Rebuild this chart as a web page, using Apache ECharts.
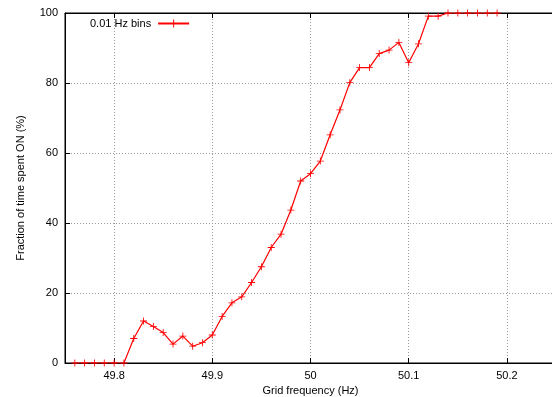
<!DOCTYPE html>
<html><head><meta charset="utf-8">
<script src="https://cdn.jsdelivr.net/npm/echarts@6/dist/echarts.min.js"></script>
<style>html,body{margin:0;padding:0;background:#fff}#c{width:552px;height:397px}</style>
</head><body><div id="c"></div>
<script>
const freqs = [49.76,49.77,49.78,49.79,49.80,49.81,49.82,49.83,49.84,49.85,49.86,49.87,49.88,49.89,49.90,49.91,49.92,49.93,49.94,49.95,49.96,49.97,49.98,49.99,50.00,50.01,50.02,50.03,50.04,50.05,50.06,50.07,50.08,50.09,50.10,50.11,50.12,50.13,50.14,50.15,50.16,50.17,50.18,50.19];
const fractionOn = [0,0,0,0,0,0,7.0,12.0,10.4,8.7,5.4,7.7,4.8,5.8,8.0,13.3,17.2,18.9,23.0,27.5,33.0,36.8,43.7,52.0,54.1,57.7,65.2,72.3,80.1,84.4,84.4,88.4,89.4,91.6,85.8,91.2,99.1,99.1,100,100,100,100,100,100];
const xTicks = [49.8,49.9,50.0,50.1,50.2];
const yTicks = [0,20,40,60,80,100];
const seriesName = '0.01 Hz bins';

const plus = 'path://M0,4.4H10V5.6H0Z M4.4,0H5.6V10H4.4Z';
const font = 'Liberation Sans, Arial, sans-serif';
const chart = echarts.init(document.getElementById('c'), null, {renderer:'canvas'});
const data = freqs.map((f,i)=>[f, fractionOn[i]]);
const gridLine = {show:true, lineStyle:{color:'#999', type:[1,2], width:1}};
chart.setOption({
  animation:false,
  backgroundColor:'#fff',
  grid:{left:65, right:-4, top:13, bottom:34, show:true, borderColor:'#000', borderWidth:1,
    containLabel:false, outerBoundsMode:'none'},
  legend:{
    left:85, top:13, align:'right', itemWidth:31, itemHeight:10, itemGap:0,
    textStyle:{fontFamily:font, fontSize:11, color:'#000', padding:[0,2,0,0]},
    data:[{name:seriesName}]
  },
  xAxis:[{
    type:'value', min:49.75, max:50.25, position:'bottom',
    name:'Grid frequency (Hz)', nameLocation:'middle', nameGap:20,
    nameTextStyle:{fontFamily:font, fontSize:11, color:'#000'},
    axisLine:{show:true, lineStyle:{color:'#000', width:1}},
    axisTick:{show:true, inside:true, length:5, customValues:xTicks, lineStyle:{color:'#000'}},
    axisLabel:{show:true, customValues:xTicks, margin:7, fontFamily:font, fontSize:11, color:'#000',
      formatter:v=>String(Math.round(v*10)/10)},
    splitLine:gridLine
  },{
    type:'value', min:49.75, max:50.25, position:'top',
    axisLine:{show:true, lineStyle:{color:'#000', width:1}},
    axisTick:{show:true, inside:true, length:5, customValues:xTicks, lineStyle:{color:'#000'}},
    axisLabel:{show:false}, splitLine:{show:false}
  }],
  yAxis:{
    type:'value', min:0, max:100, interval:20,
    name:'Fraction of time spent ON (%)', nameLocation:'middle', nameGap:39,
    nameTextStyle:{fontFamily:font, fontSize:11, color:'#000'},
    axisLine:{show:true, lineStyle:{color:'#000', width:1}},
    axisTick:{show:true, inside:true, length:5, lineStyle:{color:'#000'}},
    axisLabel:{margin:7, fontFamily:font, fontSize:11, color:'#000'},
    splitLine:gridLine
  },
  series:[{
    name:seriesName, type:'line', data:data, xAxisIndex:0,
    symbol:plus, symbolSize:7, showSymbol:true,
    lineStyle:{color:'#ff0000', width:1.2},
    itemStyle:{color:'#ff0000', borderWidth:0}
  }]
});
</script></body></html>
